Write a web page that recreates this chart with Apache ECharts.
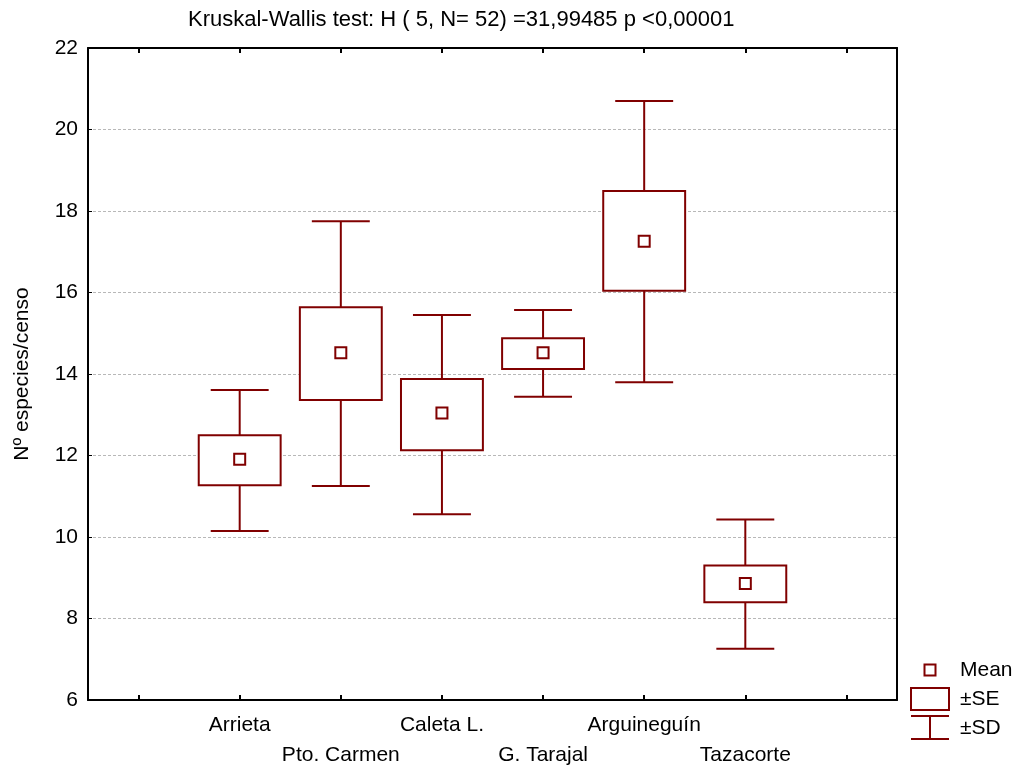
<!DOCTYPE html>
<html>
<head>
<meta charset="utf-8">
<script src="https://cdn.jsdelivr.net/npm/echarts@6/dist/echarts.min.js"></script>
<style>html,body{margin:0;padding:0;background:#fff;}#c{width:1020px;height:769px;}</style>
</head>
<body>
<div id="c"></div>
<script>
var categories = ['', 'Arrieta', 'Pto. Carmen', 'Caleta L.', 'G. Tarajal', 'Arguineguín', 'Tazacorte', ''];
var siteNames = ['Arrieta', 'Pto. Carmen', 'Caleta L.', 'G. Tarajal', 'Arguineguín', 'Tazacorte'];
var means  = [11.91, 14.52, 13.04, 14.52, 17.26, 8.86];
var seLow  = [11.27, 13.36, 12.13, 14.12, 16.04, 8.40];
var seHigh = [12.50, 15.64, 13.88, 14.88, 18.49, 9.30];
var sdLow  = [10.15, 11.25, 10.56, 13.44, 13.80, 7.26];
var sdHigh = [13.61, 17.75, 15.45, 15.57, 20.70, 10.43];
var yTicks = [6, 8, 10, 12, 14, 16, 18, 20, 22];
var titleText = 'Kruskal-Wallis test: H ( 5, N= 52) =31,99485 p <0,00001';
var yName = 'Nº especies/censo';

var RED = '#800000';
var FONT = 'Liberation Sans, Arial, sans-serif';

var data = siteNames.map(function (n, i) {
  return [n, means[i], seLow[i], seHigh[i], sdLow[i], sdHigh[i]];
});

function renderItem(params, api) {
  var x = api.value(0);
  var band = api.size([1, 0])[0];
  var pMean = api.coord([x, api.value(1)]);
  var pSeLo = api.coord([x, api.value(2)]);
  var pSeHi = api.coord([x, api.value(3)]);
  var pSdLo = api.coord([x, api.value(4)]);
  var pSdHi = api.coord([x, api.value(5)]);
  var cx = pMean[0];
  var bw = band * 0.81 / 2;
  var cw = band * 0.573 / 2;
  var ls = {stroke: RED, lineWidth: 2, fill: null};
  return {
    type: 'group',
    children: [
      {type: 'line', shape: {x1: cx, y1: pSdHi[1], x2: cx, y2: pSeHi[1]}, style: ls},
      {type: 'line', shape: {x1: cx, y1: pSeLo[1], x2: cx, y2: pSdLo[1]}, style: ls},
      {type: 'line', shape: {x1: cx - cw, y1: pSdHi[1], x2: cx + cw, y2: pSdHi[1]}, style: ls},
      {type: 'line', shape: {x1: cx - cw, y1: pSdLo[1], x2: cx + cw, y2: pSdLo[1]}, style: ls},
      {type: 'rect', shape: {x: cx - bw, y: pSeHi[1], width: 2 * bw, height: pSeLo[1] - pSeHi[1]}, style: {stroke: RED, lineWidth: 2, fill: '#fff'}},
      {type: 'rect', shape: {x: cx - 5.5, y: pMean[1] - 5.5, width: 11, height: 11}, style: {stroke: RED, lineWidth: 2, fill: '#fff'}}
    ]
  };
}

var chart = echarts.init(document.getElementById('c'), null, {renderer: 'canvas'});
chart.setOption({
  backgroundColor: '#fff',
  animation: false,
  title: {
    text: titleText,
    left: 183, top: 4,
    textStyle: {fontFamily: FONT, fontSize: 22, fontWeight: 'normal', color: '#000'}
  },
  grid: {left: 88, right: 123, top: 48, bottom: 69, containLabel: false, outerBoundsMode: 'none'},
  xAxis: [{
    type: 'category',
    data: categories,
    boundaryGap: true,
    position: 'bottom',
    axisLine: {show: true, lineStyle: {color: '#000', width: 2}},
    axisTick: {show: true, inside: true, alignWithLabel: true, length: 5, interval: 0, lineStyle: {color: '#000', width: 2}},
    axisLabel: {
      interval: 0, margin: 10, color: '#000', fontFamily: FONT, fontSize: 21, lineHeight: 30,
      formatter: function (v, i) { if (!v) return ''; return (i % 2 === 0) ? '\n' + v : v; }
    },
    splitLine: {show: false}
  }, {
    type: 'category',
    data: categories,
    boundaryGap: true,
    position: 'top',
    axisLine: {show: true, lineStyle: {color: '#000', width: 2}},
    axisTick: {show: true, inside: true, alignWithLabel: true, length: 5, interval: 0, lineStyle: {color: '#000', width: 2}},
    axisLabel: {show: false},
    splitLine: {show: false}
  }],
  yAxis: [{
    type: 'value',
    min: yTicks[0], max: yTicks[yTicks.length - 1], interval: 2,
    name: yName,
    nameLocation: 'middle',
    nameGap: 55,
    nameTextStyle: {fontFamily: FONT, fontSize: 21, color: '#000'},
    axisLine: {show: true, lineStyle: {color: '#000', width: 2}},
    axisTick: {show: true, inside: true, length: 4, lineStyle: {color: '#000', width: 1}},
    axisLabel: {margin: 10, color: '#000', fontFamily: FONT, fontSize: 21},
    splitLine: {show: true, lineStyle: {color: '#b8b8b8', type: [3, 2], width: 1}}
  }, {
    type: 'value',
    min: yTicks[0], max: yTicks[yTicks.length - 1], interval: 2,
    position: 'right',
    axisLine: {show: true, lineStyle: {color: '#000', width: 2}},
    axisTick: {show: false},
    axisLabel: {show: false},
    splitLine: {show: false}
  }],
  series: [{
    type: 'custom',
    renderItem: renderItem,
    xAxisIndex: 0, yAxisIndex: 0,
    encode: {x: 0, y: [1, 2, 3, 4, 5]},
    data: data,
    z: 5
  }],
  graphic: [
    {type: 'rect', shape: {x: 924.5, y: 664.5, width: 11, height: 11}, style: {stroke: RED, lineWidth: 2, fill: '#fff'}},
    {type: 'text', left: 960, top: 660, style: {text: 'Mean', fontFamily: FONT, fontSize: 21, fill: '#000'}},
    {type: 'rect', shape: {x: 911, y: 688, width: 38, height: 22}, style: {stroke: RED, lineWidth: 2, fill: '#fff'}},
    {type: 'text', left: 960, top: 689, style: {text: '±SE', fontFamily: FONT, fontSize: 21, fill: '#000'}},
    {type: 'line', shape: {x1: 911, y1: 716, x2: 949, y2: 716}, style: {stroke: RED, lineWidth: 2}},
    {type: 'line', shape: {x1: 911, y1: 739, x2: 949, y2: 739}, style: {stroke: RED, lineWidth: 2}},
    {type: 'line', shape: {x1: 930, y1: 716, x2: 930, y2: 739}, style: {stroke: RED, lineWidth: 2}},
    {type: 'text', left: 960, top: 718, style: {text: '±SD', fontFamily: FONT, fontSize: 21, fill: '#000'}}
  ]
});
</script>
</body>
</html>
